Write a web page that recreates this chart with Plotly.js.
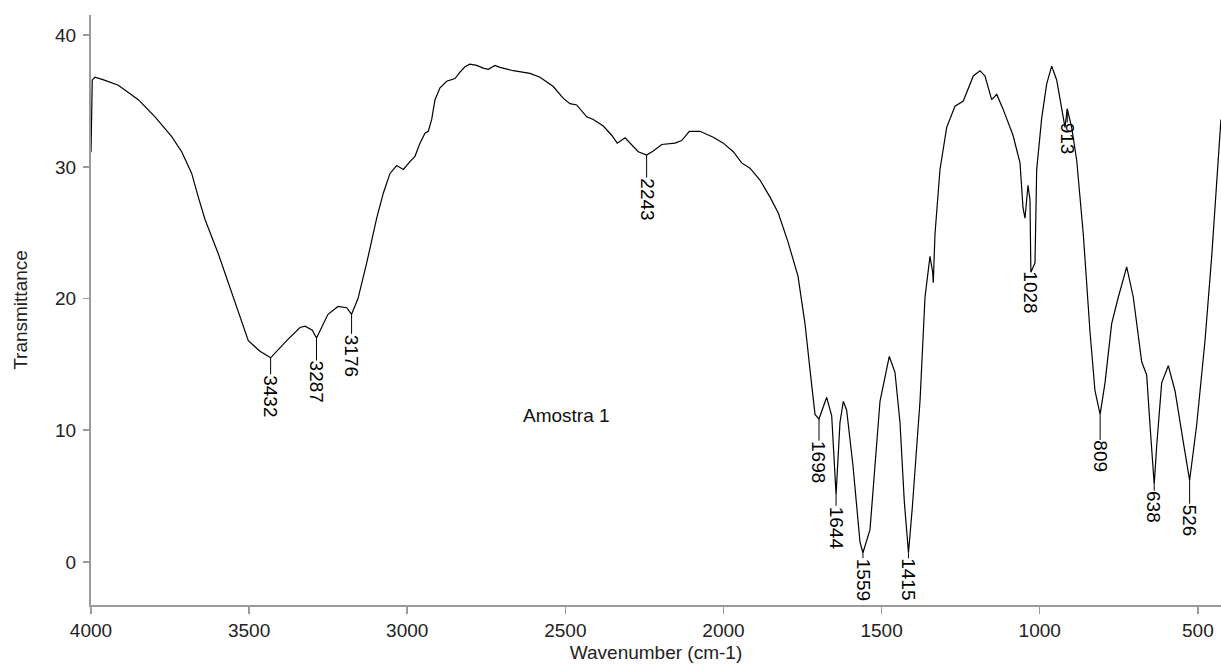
<!DOCTYPE html>
<html>
<head>
<meta charset="utf-8">
<script src="https://cdn.plot.ly/plotly-3.0.1.min.js"></script>
<style>html,body{margin:0;padding:0;background:#fff;}#chart{width:1221px;height:666px;}</style>
</head>
<body>
<div id="chart"></div>
<script>
// Spectrum: wavenumber (cm-1) and transmittance
const wavenumber = [4000,3998,3996,3987.4,3960,3913.7,3850.4,3797.6,3744.8,3713.2,3681.6,3660.7,3639.5,3597.5,3555.1,3528.8,3502.6,3465.6,3432,3381.2,3339.1,3323.3,3300,3287,3250.6,3219,3191.5,3176,3155.7,3128.2,3096.6,3075.7,3054.5,3033.3,3012.5,2991.3,2975.5,2959.7,2943.9,2933.4,2922.7,2912.2,2896.4,2875.2,2849,2833.2,2817.4,2801.6,2780.4,2759.5,2743.7,2722.5,2706.7,2664.6,2611.8,2580.2,2538.1,2506.5,2485.4,2464.2,2432.5,2411.7,2380.1,2353.5,2335.8,2311.4,2290.3,2269.4,2243,2222,2195.4,2153.3,2132.1,2108.1,2074.3,2032.2,2000.6,1969,1942.4,1916.2,1884.6,1852.9,1826.7,1796,1764.4,1742.3,1726.5,1710.6,1698,1673.7,1657.8,1644,1631.6,1621.1,1610.4,1590.5,1568.3,1559,1536.7,1505.1,1475.7,1457.7,1441.9,1428,1415,1403,1378.6,1362.8,1347,1338.5,1336.6,1331.2,1315.4,1294.2,1268,1241.7,1210.1,1188.9,1173,1152,1136,1116.2,1084.5,1062.4,1052.9,1046.6,1037.1,1030.8,1028,1015,1009.6,993.8,978,962.2,946.4,930.6,920.1,913,899,883.1,862.3,841.1,825.3,809,793.6,772.5,751.6,725,704.1,677.6,661.8,651.3,638,630.2,614.4,593.5,572.3,546,526,503.7,477.4,456.2,440.4,430,427];
const transmittance = [31.1,34.0,36.6,36.8,36.6,36.2,35.1,33.8,32.3,31.15,29.5,27.7,26.0,23.4,20.4,18.6,16.8,16.0,15.5,16.8,17.8,17.9,17.6,17.0,18.8,19.4,19.3,18.8,20.0,22.7,26.1,28.0,29.5,30.1,29.8,30.4,30.8,31.8,32.55,32.7,33.6,35.1,36.0,36.5,36.7,37.2,37.6,37.8,37.7,37.5,37.4,37.7,37.55,37.3,37.1,36.8,36.1,35.2,34.8,34.7,33.8,33.6,33.1,32.4,31.8,32.2,31.7,31.15,30.9,31.2,31.7,31.8,32.0,32.7,32.7,32.25,31.8,31.15,30.3,29.9,29.0,27.7,26.5,24.3,21.7,18.1,14.6,11.2,10.85,12.5,11.1,5.1,10.6,12.2,11.5,7.3,1.5,0.7,2.45,12.2,15.6,14.4,10.6,4.5,0.7,4.1,12.2,20.1,23.2,22.0,21.2,24.9,29.8,33.0,34.6,35.0,36.9,37.3,36.9,35.1,35.5,34.4,32.4,30.3,26.9,26.1,28.6,27.5,22.0,22.7,29.8,33.7,36.3,37.65,36.6,34.3,33.0,34.4,33.0,30.5,24.9,17.5,13.0,11.2,13.6,18.1,20.1,22.4,20.1,15.2,14.2,10.4,5.9,8.8,13.6,14.9,13.0,9.1,6.2,10.4,16.8,23.2,29.2,32.7,33.6];

// Peak labels
const peakWavenumbers = [3432,3287,3176,2243,1698,1644,1559,1415,1028,913,809,638,526];
const peakLabels = ["3432","3287","3176","2243","1698","1644","1559","1415","1028","913","809","638","526"];

// Tick labels
const xTickVals = [4000,3500,3000,2500,2000,1500,1000,500];
const xTickText = ["4000","3500","3000","2500","2000","1500","1000","500"];
const yTickVals = [0,10,20,30,40];
const yTickText = ["0","10","20","30","40"];

const sampleName = "Amostra 1";
const sampleNamePos = {x: 2498, y: 11.1};

// style: pixel distance from the curve point to the label centre
const labelDrop = [38,44,41,44,43,33,27,27,20,30,42,23,40];

const FONT = '"Liberation Sans", Arial, sans-serif';
const AXIS_COLOR = '#9a9a9a';

function tAt(w) {
  const i = wavenumber.indexOf(w);
  return transmittance[i];
}

const annotations = peakWavenumbers.map((w, i) => ({
  x: w, y: tAt(w), xref: 'x', yref: 'y',
  text: peakLabels[i], textangle: 90,
  showarrow: true, arrowhead: 0, arrowwidth: 1, arrowcolor: '#000',
  ax: 0, ay: labelDrop[i], standoff: 0, borderpad: 0,
  font: {family: FONT, size: 19, color: '#000'}
}));
annotations.push({
  x: sampleNamePos.x, y: sampleNamePos.y, xref: 'x', yref: 'y',
  text: sampleName, showarrow: false,
  font: {family: FONT, size: 19, color: '#111'}
});

const trace = {
  x: wavenumber, y: transmittance, type: 'scatter', mode: 'lines',
  line: {color: '#000', width: 1.2}, hoverinfo: 'skip'
};

const layout = {
  width: 1221, height: 666,
  margin: {l: 91, r: 0, t: 15, b: 61, pad: 0},
  paper_bgcolor: '#fff', plot_bgcolor: '#fff',
  showlegend: false,
  font: {family: FONT, size: 19, color: '#222'},
  xaxis: {
    range: [4000, 426.8], autorange: false,
    tickvals: xTickVals, ticktext: xTickText,
    ticks: 'outside', ticklen: 7, tickwidth: 1.5, tickcolor: AXIS_COLOR,
    showline: true, linecolor: AXIS_COLOR, linewidth: 2, mirror: false,
    showgrid: false, zeroline: false,
    tickfont: {family: FONT, size: 19, color: '#222'},
    title: {text: 'Wavenumber (cm-1)', standoff: 6, font: {family: FONT, size: 19, color: '#222'}},
    automargin: false
  },
  yaxis: {
    range: [-3.27, 41.53], autorange: false,
    tickvals: yTickVals, ticktext: yTickText,
    ticks: 'outside', ticklen: 6, tickwidth: 1.5, tickcolor: AXIS_COLOR,
    ticklabelstandoff: 3,
    showline: true, linecolor: AXIS_COLOR, linewidth: 2, mirror: false,
    showgrid: false, zeroline: false,
    tickfont: {family: FONT, size: 19, color: '#222'},
    title: {text: 'Transmittance', standoff: 22, font: {family: FONT, size: 19, color: '#222'}},
    automargin: false
  },
  annotations: annotations
};

Plotly.newPlot('chart', [trace], layout, {displayModeBar: false, staticPlot: true});
</script>
</body>
</html>
